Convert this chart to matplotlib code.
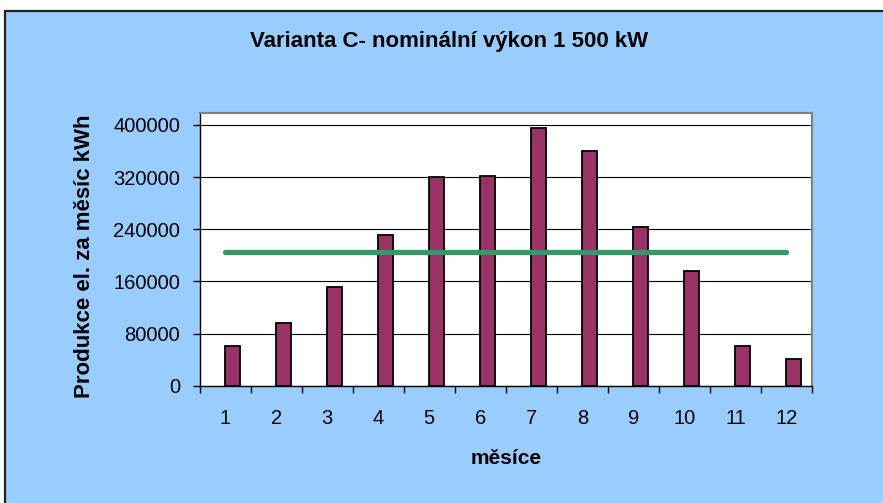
import matplotlib.pyplot as plt
from matplotlib.patches import Rectangle
from matplotlib.ticker import FixedLocator, MultipleLocator

months = [1, 2, 3, 4, 5, 6, 7, 8, 9, 10, 11, 12]
production = [61000, 96000, 151000, 231000, 320000, 322000,
              396000, 360000, 243000, 176000, 61000, 41000]
average = 205000
y_ticks = [0, 80000, 160000, 240000, 320000, 400000]

plt.rcParams["font.family"] = ["Liberation Sans", "DejaVu Sans"]

fig = plt.figure(figsize=(8.83, 5.03), dpi=100, facecolor="white")

# chart-area background with its dark border, kept behind the axes
fig.add_artist(Rectangle((5 / 883, -0.1), 1.2, (503 - 11) / 503 + 0.1,
                         transform=fig.transFigure, facecolor="#99CCFF",
                         edgecolor="#222222", linewidth=1.6, zorder=-5))

ax = fig.add_axes([199.5 / 883, (503 - 385.7) / 503, 612.5 / 883, 272.7 / 503])
ax.set_facecolor("white")

ax.bar(months, production, width=0.286, align="edge", color="#993366",
       edgecolor="black", linewidth=1.3, zorder=3)
ax.plot(months, [average] * len(months), color="#339966", linewidth=3.8,
        solid_capstyle="round", zorder=4)

ax.set_xlim(0.5, 12.5)
ax.set_ylim(0, 418400)
ax.yaxis.set_major_locator(FixedLocator(y_ticks))
ax.set_yticklabels([str(v) for v in y_ticks])
ax.grid(axis="y", color="black", linewidth=0.8, zorder=1)

ax.set_xticks(months)
ax.xaxis.set_minor_locator(MultipleLocator(1, offset=0.5))
ax.tick_params(axis="x", which="major", length=0, pad=17, labelsize=14.5)
ax.tick_params(axis="x", which="minor", length=5, width=1, direction="out")
ax.tick_params(axis="y", length=5, width=1, direction="out", pad=9, labelsize=14.5)

for side in ("top", "right"):
    ax.spines[side].set_color("#808080")
    ax.spines[side].set_linewidth(1.5)
for side in ("left", "bottom"):
    ax.spines[side].set_color("black")
    ax.spines[side].set_linewidth(1.0)

ax.set_xlabel("měsíce", fontsize=15, fontweight="bold", labelpad=15)
ax.set_ylabel("Produkce el. za měsíc kWh", fontsize=16, fontweight="bold")
ax.yaxis.set_label_coords((95 - 199.5) / 612.5, (385.7 - 256) / 272.7)

fig.text(449 / 883, 1 - 41 / 503, "Varianta C- nominální výkon 1 500 kW",
         ha="center", va="center", fontsize=16, fontweight="bold")

fig.savefig("out.png", dpi=100, facecolor=fig.get_facecolor())
